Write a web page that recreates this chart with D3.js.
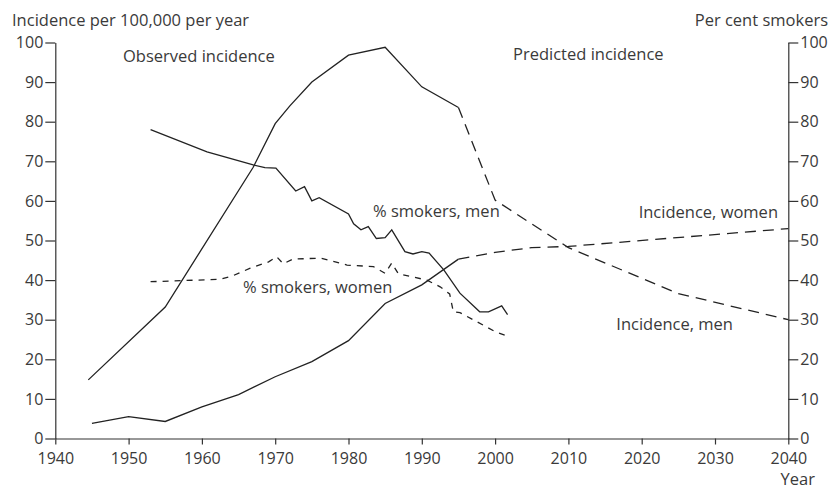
<!DOCTYPE html>
<html><head><meta charset="utf-8">
<script src="https://cdn.jsdelivr.net/npm/d3@7"></script>
<style>
body{margin:0;background:#fff;}
svg text{font-family:"Open Sans",sans-serif;fill:#3a3a3a;}
</style></head>
<body><svg id="c" width="832" height="489"></svg>
<script>
// Data
const menIncObserved = [[1944.5,14.8],[1955,33.2],[1967,68.5],[1970,79.5],[1972,84],[1975,90],[1980,96.8],[1985,98.8],[1990,88.8],[1995,83.6]];
const menIncPredicted = [[1995,83.6],[2000,60.2],[2010,48.2],[2025,36.6],[2040,30]];
const womenIncObserved = [[1945,3.8],[1950,5.5],[1955,4.3],[1960,8.0],[1965,11.1],[1970,15.6],[1975,19.4],[1980,24.7],[1985,34.1],[1990,38.8],[1995,45.3]];
const womenIncPredicted = [[1995,45.3],[2000,47],[2005,48.2],[2010,48.5],[2040,53]];
const smokersMen = [[1953,78],[1960.7,72.4],[1967,69.1],[1968.6,68.4],[1970.1,68.3],[1972.8,62.5],[1974,63.6],[1975,60],[1976,60.8],[1980,56.7],[1980.7,54.2],[1981.7,52.7],[1982.7,53.5],[1983.8,50.5],[1985,50.7],[1985.9,52.7],[1987.7,47.2],[1988.8,46.6],[1990,47.2],[1991,46.8],[1993,42.6],[1995.2,36.7],[1997.9,32],[1999.1,32],[2000.9,33.5],[2001.7,31.3]];
const smokersWomen = [[1953,39.6],[1962.5,40.2],[1964.1,41],[1966.6,43],[1969.1,44.6],[1970.2,45.9],[1971.1,44.1],[1972.4,45.3],[1975.5,45.5],[1976.3,45.5],[1979.8,43.8],[1983.4,43.4],[1985,41.7],[1985.9,44.3],[1986.8,41.6],[1990.7,40],[1992.5,38.3],[1993.8,36.5],[1994.3,32],[1995.2,31.8],[2000,27],[2001.6,25.9]];
const xTicks = [1940,1950,1960,1970,1980,1990,2000,2010,2020,2030,2040];
const yTicks = [0,10,20,30,40,50,60,70,80,90,100];

const svg = d3.select("#c");
const x = d3.scaleLinear().domain([1940,2040]).range([55.3,788.3]);
const yL = d3.scaleLinear().domain([0,100]).range([438.5,42.5]);
const yR = d3.scaleLinear().domain([0,100]).range([438.5,42.5]);

const axStroke = "#333";
function styleAxis(g){
  g.select(".domain").attr("stroke",axStroke).attr("stroke-width",1.2);
  g.selectAll(".tick line").attr("stroke",axStroke).attr("stroke-width",1.2);
  g.selectAll(".tick text").attr("font-size",16).attr("font-family","Open Sans").attr("fill","#3a3a3a");
}
svg.append("g").attr("transform","translate(55.3,0)")
  .call(d3.axisLeft(yL).tickValues(yTicks).tickSize(10).tickPadding(2).tickSizeOuter(0)).call(styleAxis);
svg.append("g").attr("transform","translate(788.3,0)")
  .call(d3.axisRight(yR).tickValues(yTicks).tickSize(10).tickPadding(2).tickSizeOuter(0)).call(styleAxis);
svg.append("g").attr("transform","translate(0,438.5)")
  .call(d3.axisBottom(x).tickValues(xTicks).tickFormat(d3.format("d")).tickSize(6).tickPadding(8).tickSizeOuter(0)).call(styleAxis);

const line = yS => d3.line().x(d=>x(d[0])).y(d=>yS(d[1]));
function draw(data, yS, dash){
  svg.append("path").datum(data).attr("fill","none").attr("stroke","#222").attr("stroke-width",1.3)
    .attr("stroke-dasharray",dash||null).attr("d",line(yS));
}
draw(menIncObserved,yL);
draw(menIncPredicted,yL,"11,7");
draw(womenIncObserved,yL);
draw(womenIncPredicted,yL,"11,7");
draw(smokersMen,yR);
draw(smokersWomen,yR,"6,6");

function label(t,xp,yp,anchor){
  svg.append("text").attr("x",xp).attr("y",yp).attr("font-size",16.5).attr("text-anchor",anchor||"start").text(t);
}
label("Incidence per 100,000 per year",12,26);
label("Per cent smokers",828,26,"end");
label("Observed incidence",123,62);
label("Predicted incidence",513,60);
label("% smokers, men",373,217);
label("% smokers, women",243,293);
label("Incidence, women",778,218,"end");
label("Incidence, men",733,330,"end");
label("Year",815,485,"end");
</script></body></html>
